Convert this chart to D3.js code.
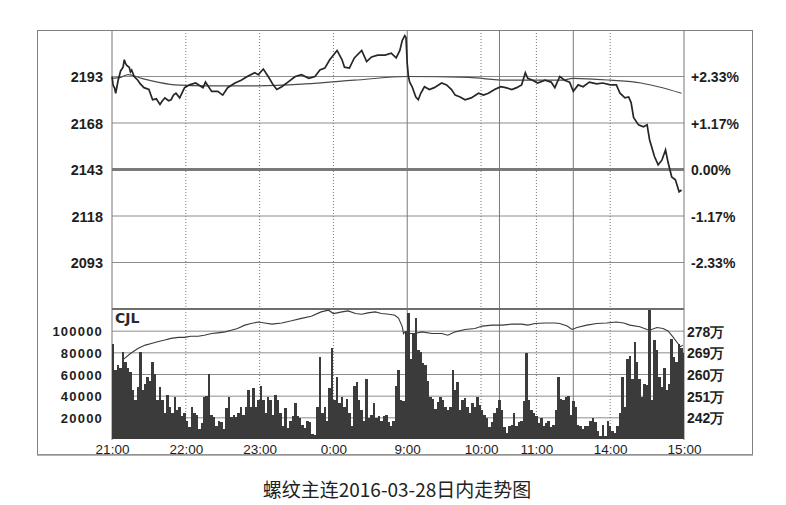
<!DOCTYPE html>
<html>
<head>
<meta charset="utf-8">
<script src="https://cdn.jsdelivr.net/npm/d3@7"></script>
<style>
  body { margin: 0; background: #fff; }
  svg { display: block; font-family: "DejaVu Sans", sans-serif; }
</style>
</head>
<body>
<div id="chart"></div>
<script>
// --- dati --- //
// minuti di contrattazione: 0 = 21:00, 240 = 9:00, 465 = 15:00
const timeLabels = ["21:00", "22:00", "23:00", "0:00", "9:00", "10:00", "11:00", "14:00", "15:00"];
const timeLabelMin = [0, 60, 120, 180, 240, 300, 345, 405, 465];
const dottedMin = [60, 120, 180, 300, 345, 405];
const solidMin = [240, 315, 375];

const preClose = 2143;
const priceTicks = [2193, 2168, 2143, 2118, 2093];
const priceMin = [
  0, 1, 2, 3, 5, 7, 9, 10, 11, 12,
  14, 15, 16, 18, 21, 23, 26, 30, 33, 36,
  39, 41, 43, 46, 48, 50, 52, 55, 59, 63,
  68, 74, 76, 81, 86, 90, 94, 100, 105, 110,
  116, 119, 123, 127, 131, 134, 138, 143, 149, 154,
  160, 165, 169, 173, 177, 183, 187, 189, 193, 197,
  203, 207, 211, 216, 222, 227, 231, 234, 236, 238,
  239, 240, 241, 242, 244, 247, 249, 251, 254, 258,
  262, 268, 272, 276, 279, 283, 287, 292, 298, 302,
  306, 311, 316, 320, 325, 329, 333, 336, 338, 342,
  346, 352, 357, 360, 364, 368, 372, 375, 379, 383,
  388, 394, 399, 405, 410, 413, 417, 420, 422, 424,
  428, 432, 435, 437, 441, 444, 447, 450, 452, 455,
  458, 461, 463
];
const priceVal = [
  2193, 2188, 2187, 2184, 2191, 2196, 2198, 2202, 2200, 2199,
  2198, 2195.5, 2196.5, 2193, 2191, 2189, 2187, 2186, 2180.5, 2181,
  2178, 2180, 2181.5, 2180, 2180.5, 2183, 2184, 2181.5, 2187, 2188.5,
  2189.5, 2187, 2190, 2185, 2185, 2183, 2187, 2189.5, 2191, 2193,
  2195, 2194, 2197, 2193, 2188.5, 2186, 2187.5, 2190, 2193, 2194,
  2192, 2193, 2196.5, 2197.5, 2202, 2207, 2202, 2198, 2197.5, 2203,
  2207, 2201, 2203.5, 2204.5, 2204.5, 2205.5, 2203, 2207, 2212.5, 2215,
  2214, 2200, 2193, 2190, 2187.5, 2182, 2180.5, 2184, 2187.5, 2186,
  2187, 2189.5, 2188.5, 2186, 2183, 2182, 2180.5, 2181.5, 2184, 2183,
  2184, 2186, 2187.5, 2187, 2186, 2187, 2188.5, 2195, 2192, 2191,
  2189.5, 2191, 2190, 2187, 2193, 2191, 2190, 2185, 2188.5, 2187.5,
  2190, 2189, 2189.5, 2188.5, 2188.5, 2184, 2181.5, 2182, 2179, 2171,
  2167, 2166, 2167, 2159, 2150, 2145.5, 2148, 2153.5, 2147, 2139,
  2137.5, 2131, 2132
];

// linea del prezzo medio
const avgMin = [0, 7, 13, 24, 37, 51, 78, 119, 157, 197, 240, 290, 320, 365, 375, 405, 430, 444, 463];
const avgVal = [2192, 2192.5, 2194, 2192, 2190, 2188.5, 2188, 2188, 2189, 2191, 2193, 2192.5, 2191, 2191, 2192, 2191, 2189.5, 2187.5, 2184];

// volume ogni 2 minuti, in migliaia
const volTicks = [20, 40, 60, 80, 100];
const volK = [
  88, 64, 68, 66, 80, 71, 66, 62, 45, 36,
  48, 80, 45, 51, 57, 54, 71, 60, 36, 48,
  36, 24, 41, 30, 24, 39, 27, 30, 21, 24,
  17, 11, 30, 24, 22, 9, 15, 39, 40, 60,
  22, 20, 12, 17, 16, 9, 29, 39, 20, 22,
  20, 24, 30, 22, 30, 45, 30, 47, 30, 36,
  49, 36, 24, 39, 36, 22, 41, 36, 24, 12,
  29, 10, 17, 21, 33, 21, 19, 13, 10, 17,
  16, 5, 4, 30, 76, 24, 30, 17, 47, 84,
  36, 57, 33, 39, 30, 37, 24, 12, 49, 53,
  36, 27, 17, 55, 19, 22, 33, 19, 21, 17,
  21, 22, 16, 12, 17, 49, 64, 36, 35, 100,
  116, 74, 97, 112, 82, 80, 70, 68, 54, 39,
  37, 28, 34, 39, 36, 30, 27, 30, 64, 45,
  53, 27, 36, 38, 30, 24, 33, 30, 39, 31,
  27, 22, 19, 11, 16, 24, 29, 36, 27, 11,
  6, 12, 13, 24, 12, 16, 17, 35, 79, 36,
  27, 24, 21, 15, 19, 12, 15, 17, 11, 13,
  27, 57, 37, 36, 39, 40, 22, 35, 30, 13,
  12, 9, 12, 12, 17, 19, 16, 7, 3, 13,
  3, 17, 12, 7, 6, 12, 24, 57, 30, 74,
  77, 55, 90, 71, 55, 39, 51, 50, 119, 36,
  91, 82, 57, 48, 66, 45, 51, 92, 76, 71,
  88, 84, 79
];

// posizioni aperte (CJL), in 万
const oiTicks = [242, 251, 260, 269, 278];
const oiMin = [
  9, 15, 21, 27, 32, 37, 43, 48, 54, 59,
  64, 70, 75, 81, 86, 92, 97, 102, 108, 113,
  119, 124, 130, 138, 146, 154, 162, 170, 176, 180,
  183, 187, 192, 198, 203, 208, 214, 219, 225, 230,
  233, 236, 237, 238, 241, 246, 252, 260, 268, 273,
  279, 287, 295, 301, 309, 317, 325, 333, 338, 344,
  352, 360, 364, 370, 374, 378, 386, 394, 402, 410,
  416, 421, 429, 435, 437, 443, 448, 452, 456, 459,
  462, 464
];
const oiVal = [
  266.0, 268.5, 270.6, 272, 272.7, 273.4, 274.1, 274.8, 275.2, 275.2,
  275.7, 275.7, 276.1, 276.8, 277.1, 277.5, 278.2, 278.9, 280.3, 281,
  281.6, 281.2, 280.7, 281.2, 282.1, 283.1, 284, 285.8, 286.5, 285.1,
  285.4, 285.8, 286.2, 285.1, 284.8, 285.4, 285.8, 285.1, 284.8, 284.4,
  283.1, 279.6, 276.8, 277.5, 276.8, 276.8, 277.5, 276.8, 276.8, 276.1,
  277.5, 278.5, 278.9, 279.9, 280.3, 280.3, 280.7, 280.7, 280.3, 281,
  281.2, 281.2, 281, 279.9, 278.5, 279.3, 280.3, 281, 281.2, 281.6,
  281.2, 280.3, 279.6, 278.5, 278.2, 279.3, 278.9, 277.9, 275.4, 273.4,
  271.3, 272
];

const caption = "螺纹主连2016-03-28日内走势图";

// --- svg --- //
const width = 786, height = 505;
const svg = d3.select("#chart").append("svg")
  .attr("width", width)
  .attr("height", height);

const x = d3.scaleLinear().domain([0, 465]).range([112, 684]);
const yP = d3.scaleLinear().domain([2068, 2218]).range([309, 30]);
const yV = d3.scaleLinear().domain([0, 120]).range([439, 309]);
const yOI = d3.scaleLinear().domain([233, 287]).range([439, 309]);

const gridColor = "#8c8c8c";

// cornice esterna
svg.append("rect")
  .attr("x", 37.5).attr("y", 30.5)
  .attr("width", 715).attr("height", 424)
  .attr("fill", "none").attr("stroke", "#808080");
svg.append("line")
  .attr("x1", 37).attr("x2", 753).attr("y1", 455).attr("y2", 455)
  .attr("stroke", "#9a9a9a").attr("stroke-width", 1.5);

// griglia orizzontale prezzo
svg.append("g").selectAll("line")
  .data(priceTicks)
  .join("line")
  .attr("x1", x(0)).attr("x2", x(465))
  .attr("y1", d => yP(d)).attr("y2", d => yP(d))
  .attr("stroke", d => d === preClose ? "#7a7a7a" : gridColor)
  .attr("stroke-width", d => d === preClose ? 3 : 1);

// griglia orizzontale volume
svg.append("g").selectAll("line")
  .data(volTicks)
  .join("line")
  .attr("x1", x(0)).attr("x2", x(465))
  .attr("y1", d => yV(d) + 0.5).attr("y2", d => yV(d) + 0.5)
  .attr("stroke", gridColor);

// griglia verticale
svg.append("g").selectAll("line")
  .data(dottedMin)
  .join("line")
  .attr("x1", d => x(d)).attr("x2", d => x(d))
  .attr("y1", 30).attr("y2", 439)
  .attr("stroke", "#777")
  .attr("stroke-dasharray", "1,2");
svg.append("g").selectAll("line")
  .data(solidMin)
  .join("line")
  .attr("x1", d => x(d)).attr("x2", d => x(d))
  .attr("y1", 30).attr("y2", 439)
  .attr("stroke", "#7a7a7a");

// bordi del grafico
svg.append("line").attr("x1", 112).attr("x2", 112).attr("y1", 30).attr("y2", 440).attr("stroke", "#777");
svg.append("line").attr("x1", 684).attr("x2", 684).attr("y1", 30).attr("y2", 440).attr("stroke", "#777");
svg.append("line").attr("x1", 112).attr("x2", 684).attr("y1", 309).attr("y2", 309)
  .attr("stroke", "#6e6e6e").attr("stroke-width", 2);

// barre del volume
const slot = x(2) - x(0);
svg.append("g")
  .attr("shape-rendering", "crispEdges")
  .selectAll("rect")
  .data(volK)
  .join("rect")
  .attr("x", (d, i) => x(i * 2))
  .attr("width", (d, i) => Math.min(2, 465 - i * 2) * (slot / 2))
  .attr("y", d => yV(d))
  .attr("height", d => yV(0) - yV(d))
  .attr("fill", "#3b3b3b");

// linea CJL
svg.append("path")
  .datum(oiMin.map((m, i) => [m, oiVal[i]]))
  .attr("fill", "none")
  .attr("stroke", "#3a3a3a")
  .attr("stroke-width", 1.1)
  .attr("d", d3.line().x(d => x(d[0])).y(d => yOI(d[1])));

// prezzo medio
svg.append("path")
  .datum(avgMin.map((m, i) => [m, avgVal[i]]))
  .attr("fill", "none")
  .attr("stroke", "#4a4a4a")
  .attr("stroke-width", 1.2)
  .attr("d", d3.line().curve(d3.curveMonotoneX).x(d => x(d[0])).y(d => yP(d[1])));

// prezzo
svg.append("path")
  .datum(priceMin.map((m, i) => [m, priceVal[i]]))
  .attr("fill", "none")
  .attr("stroke", "#262626")
  .attr("stroke-width", 1.7)
  .attr("d", d3.line().x(d => x(d[0])).y(d => yP(d[1])));

// --- assi --- //
function styleAxis(g) {
  g.select(".domain").remove();
  g.selectAll("text").attr("fill", "#1e1e1e");
}

svg.append("g")
  .attr("transform", "translate(112,0)")
  .call(d3.axisLeft(yP).tickValues(priceTicks).tickFormat(d3.format("d")).tickSize(0).tickPadding(9))
  .call(styleAxis)
  .selectAll("text")
  .attr("font-size", 14.5).attr("font-weight", "bold").attr("dy", "0.37em");

const pct = d => {
  const v = (d - preClose) / preClose * 100;
  if (Math.abs(v) < 0.001) return "0.00%";
  return (v > 0 ? "+" : "") + v.toFixed(2) + "%";
};
svg.append("g")
  .attr("transform", "translate(684,0)")
  .call(d3.axisRight(yP).tickValues(priceTicks).tickFormat(pct).tickSize(0).tickPadding(7))
  .call(styleAxis)
  .selectAll("text")
  .attr("font-size", 14).attr("font-weight", "bold").attr("dy", "0.37em");

svg.append("g")
  .attr("transform", "translate(112,0)")
  .call(d3.axisLeft(yV).tickValues(volTicks).tickFormat(d => String(d * 1000)).tickSize(0).tickPadding(9))
  .call(styleAxis)
  .selectAll("text")
  .attr("font-size", 13).attr("font-weight", "bold").attr("letter-spacing", 1.2).attr("dy", "0.4em");

svg.append("g")
  .attr("transform", "translate(684,0)")
  .call(d3.axisRight(yOI).tickValues(oiTicks).tickFormat(d => d + "万").tickSize(0).tickPadding(3))
  .call(styleAxis)
  .selectAll("text")
  .attr("font-size", 14).attr("font-weight", "bold").attr("dy", "0.4em");

svg.append("g")
  .attr("transform", "translate(0,439)")
  .call(d3.axisBottom(x).tickValues(timeLabelMin).tickFormat((d, i) => timeLabels[i]).tickSize(0).tickPadding(5))
  .call(styleAxis)
  .selectAll("text")
  .attr("font-size", 13.5);

svg.append("text")
  .attr("x", 115).attr("y", 323)
  .attr("font-size", 14).attr("font-weight", "bold")
  .attr("fill", "#2a2a2a")
  .text("CJL");

// didascalia
svg.append("text")
  .attr("x", 397).attr("y", 497)
  .attr("text-anchor", "middle")
  .attr("font-family", "'Noto Sans CJK SC', sans-serif")
  .attr("font-size", 19)
  .attr("fill", "#222")
  .text(caption);
</script>
</body>
</html>
